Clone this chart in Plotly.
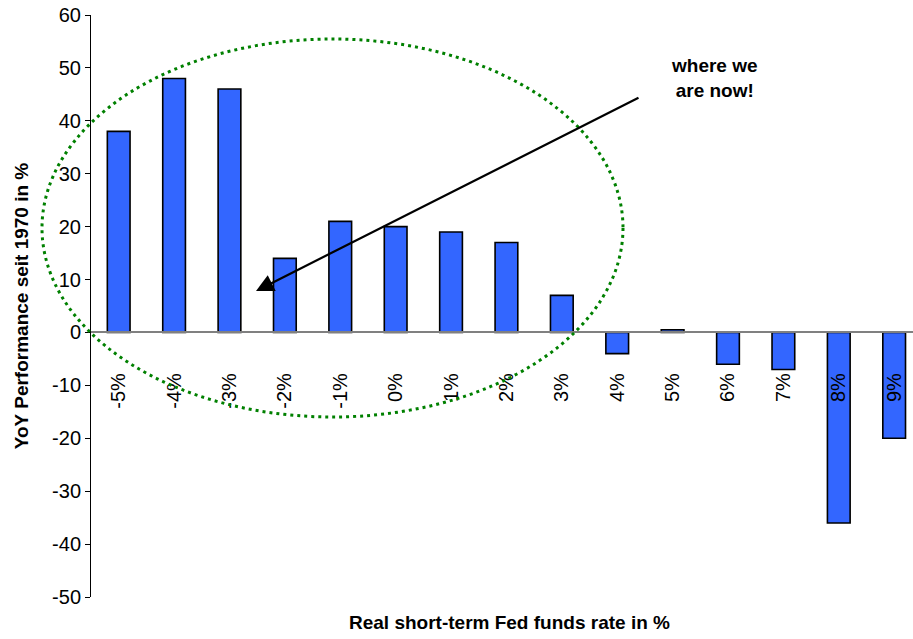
import plotly.graph_objects as go

categories = ["-5%", "-4%", "-3%", "-2%", "-1%", "0%", "1%", "2%", "3%", "4%", "5%", "6%", "7%", "8%", "9%"]
performance = [38, 48, 46, 14, 21, 20, 19, 17, 7, -4, 0.5, -6, -7, -36, -20]
y_ticks = [60, 50, 40, 30, 20, 10, 0, -10, -20, -30, -40, -50]

FONT = "Liberation Sans, Arial, sans-serif"

fig = go.Figure(go.Bar(
    x=categories, y=performance,
    marker=dict(color="#3366FF", line=dict(color="black", width=1.6)),
))

W, H = 913, 639
L, R, T, B = 91, 0, 15, 42
pw, ph = W - L - R, H - T - B

def px(xp):
    return (xp - L) / pw

def py(yp):
    return (H - B - yp) / ph

zero_pos = (60 - 0) / 110  # fraction from top
fig.update_layout(
    width=W, height=H,
    margin=dict(l=L, r=R, t=T, b=B, autoexpand=False),
    paper_bgcolor="white", plot_bgcolor="white",
    showlegend=False,
    bargap=0.59,
    font=dict(family=FONT, size=19, color="black"),
    xaxis=dict(
        type="category", range=[-0.5, 14.34],
        anchor="free", position=1 - zero_pos,
        showline=True, linecolor="#808080", linewidth=1.5,
        ticks="", tickangle=-90, ticklabelstandoff=32,
        showgrid=False, zeroline=False,
        tickfont=dict(size=20), ticklabeloverflow="allow",
    ),
    yaxis=dict(
        range=[-50, 60], tickvals=y_ticks, ticktext=[str(v) for v in y_ticks],
        showline=True, linecolor="black", linewidth=1,
        ticks="outside", ticklen=5, tickcolor="black",
        showgrid=False, zeroline=False,
        tickfont=dict(size=20), ticklabeloverflow="allow",
        title=dict(text="<b>YoY Performance seit 1970 in %</b>", font=dict(size=19), standoff=18),
    ),
    shapes=[
        dict(type="circle", xref="paper", yref="paper",
             x0=px(42), x1=px(623), y0=py(417), y1=py(39),
             line=dict(color="#008000", width=3, dash="3px,4px")),
    ],
    annotations=[
        dict(text="<b>Real short-term Fed funds rate in %</b>", xref="paper", yref="paper",
             x=px(509), y=py(622), xanchor="center", yanchor="middle",
             showarrow=False, font=dict(size=19)),
        dict(text="<b>where we<br>are now!</b>", xref="paper", yref="paper",
             x=px(714), y=py(78), xanchor="center", yanchor="middle",
             showarrow=False, font=dict(size=19)),
        dict(text="", xref="paper", yref="paper",
             x=px(256), y=py(291), ax=640 - 256, ay=97 - 291,
             showarrow=True, arrowhead=2, arrowsize=1.6, arrowwidth=2.2, arrowcolor="black"),
    ],
)

fig.write_html("out.html", config={"displayModeBar": False},
               post_script="document.body.style.margin='0';")
